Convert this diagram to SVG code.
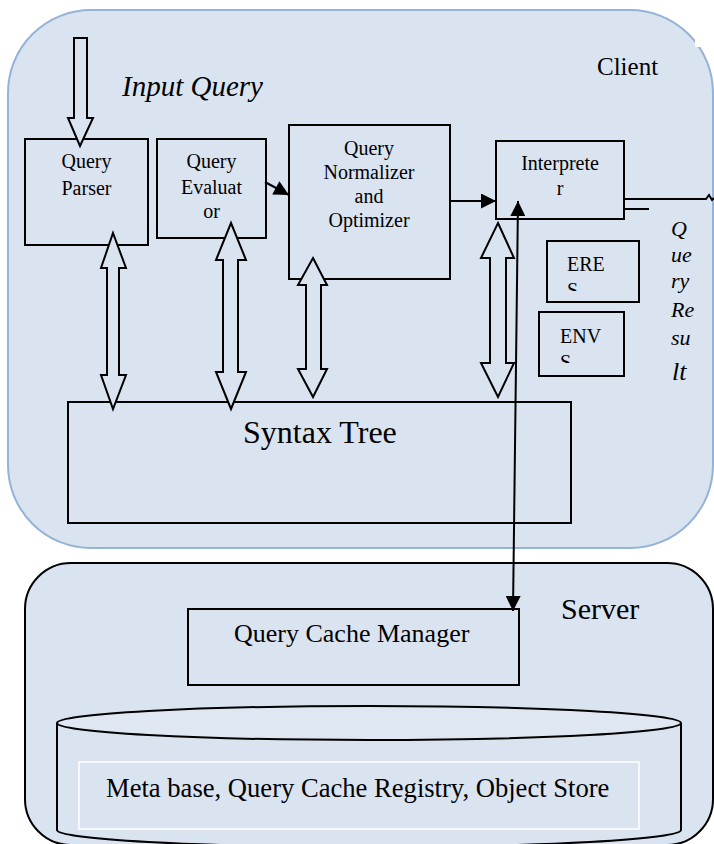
<svg xmlns="http://www.w3.org/2000/svg" width="714" height="844" viewBox="0 0 714 844">
  <style>
    text { font-family: 'Liberation Serif', 'Times New Roman', Times, serif; fill: #000; }
    .it { font-style: italic; }
    .box { fill: none; stroke: #000; stroke-width: 2; }
    .blk { fill: #dae3f0; stroke: #000; stroke-width: 2; stroke-linejoin: miter; }
    .ln { fill: none; stroke: #000; stroke-width: 2; }
  </style>
  <defs>
    <marker id="ah" viewBox="0 0 10 10" refX="10" refY="5" markerUnits="userSpaceOnUse" markerWidth="16" markerHeight="15" orient="auto-start-reverse">
      <path d="M0,0 L10,5 L0,10 Z" fill="#000"/>
    </marker>
    <clipPath id="clipEres"><rect x="540" y="240" width="110" height="51"/></clipPath>
    <clipPath id="clipEnvs"><rect x="535" y="310" width="100" height="53"/></clipPath>
  </defs>

  <rect width="714" height="844" fill="#fff"/>
  <ellipse cx="765" cy="710" rx="62" ry="178" fill="#e4e4e4"/>

  <g id="client">
    <rect x="8" y="10" width="705" height="538" rx="83" ry="83" fill="#dae3f0" stroke="#95b3d7" stroke-width="2"/>
    <rect x="695" y="31" width="19" height="16" fill="#fff"/>
    <text x="597" y="75" font-size="25" font-family="Liberation Serif, serif">Client</text>
    <text class="it" x="122" y="96" font-size="29" font-family="Liberation Serif, serif">Input Query</text>
  </g>

  <g id="server">
    <rect x="25" y="563" width="688" height="282" rx="46" ry="46" fill="#dae3f0" stroke="#000" stroke-width="2"/>
    <text x="561" y="619" font-size="30">Server</text>
  </g>

  <g id="query-parser">
    <rect class="box" x="25" y="139" width="123" height="106"/>
    <text x="86.5" y="168" font-size="20" text-anchor="middle">Query</text>
    <text x="86.5" y="195" font-size="20" text-anchor="middle">Parser</text>
  </g>

  <g id="query-evaluator">
    <rect class="box" x="157" y="139" width="109" height="99"/>
    <text x="211.5" y="168" font-size="20" text-anchor="middle">Query</text>
    <text x="211.5" y="194" font-size="20" text-anchor="middle">Evaluat</text>
    <text x="211.5" y="218" font-size="20" text-anchor="middle">or</text>
  </g>

  <g id="query-normalizer">
    <rect class="box" x="289" y="125" width="161" height="154"/>
    <text x="369" y="155" font-size="20" text-anchor="middle">Query</text>
    <text x="369" y="179" font-size="20" text-anchor="middle">Normalizer</text>
    <text x="369" y="203" font-size="20" text-anchor="middle">and</text>
    <text x="369" y="227" font-size="20" text-anchor="middle">Optimizer</text>
  </g>

  <g id="interpreter">
    <rect class="box" x="496" y="141" width="128" height="78"/>
    <text x="560" y="170" font-size="20" text-anchor="middle">Interprete</text>
    <text x="560" y="195" font-size="20" text-anchor="middle">r</text>
  </g>

  <g id="eres">
    <rect class="box" x="547" y="241" width="92" height="61"/>
    <text x="567" y="271" font-size="20">ERE</text>
    <text x="567" y="297" font-size="20" clip-path="url(#clipEres)">S</text>
  </g>

  <g id="envs">
    <rect class="box" x="539" y="312" width="85" height="64"/>
    <text x="560" y="343" font-size="20">ENV</text>
    <text x="560" y="369" font-size="20" clip-path="url(#clipEnvs)">S</text>
  </g>

  <g id="query-result">
    <text class="it" x="671" y="236" font-size="22">Q</text>
    <text class="it" x="671" y="262" font-size="22">ue</text>
    <text class="it" x="671" y="288" font-size="22">ry</text>
    <text class="it" x="671" y="317" font-size="22">Re</text>
    <text class="it" x="671" y="345" font-size="22">su</text>
    <text class="it" x="672" y="380" font-size="26">lt</text>
  </g>

  <g id="syntax-tree">
    <rect class="box" x="68" y="402" width="503" height="121"/>
    <text x="243" y="443" font-size="32">Syntax Tree</text>
  </g>

  <g id="query-cache-manager">
    <rect class="box" x="188" y="609" width="331" height="76"/>
    <text x="234" y="642" font-size="26">Query Cache Manager</text>
  </g>

  <g id="store">
    <path d="M57,723 L57,830 A312,17 0 0 0 681,830 L681,723" fill="#dae3f0" stroke="#000" stroke-width="2"/>
    <ellipse cx="369" cy="723" rx="312" ry="17" fill="#dfe7f2" stroke="#000" stroke-width="2"/>
    <rect x="79" y="762" width="560" height="67" fill="none" stroke="#fff" stroke-width="1.5"/>
    <text x="106" y="797" font-size="26.6">Meta base, Query Cache Registry, Object Store</text>
  </g>

  <g id="connectors">
    <path class="blk" d="M80,146 L93,118 L87,118 L87,38 L74,38 L74,118 L68,118 Z"/>
    <path class="blk" d="M113,233 L126,268 L119,268 L119,375 L126,375 L113,409 L101,375 L107,375 L107,268 L101,268 Z"/>
    <path class="blk" d="M231,223 L246,260 L238,260 L238,372 L246,372 L231,409 L216,372 L223,372 L223,260 L216,260 Z"/>
    <path class="blk" d="M313,258 L327,285 L321,285 L321,369 L327,369 L313,397 L298,369 L306,369 L306,285 L298,285 Z"/>
    <path class="blk" d="M498,223 L514,258 L506,258 L506,363 L514,363 L498,397 L481,363 L490,363 L490,258 L481,258 Z"/>
    <line class="ln" x1="265" y1="182" x2="289" y2="195" marker-end="url(#ah)"/>
    <line class="ln" x1="450" y1="201" x2="496" y2="201" marker-end="url(#ah)"/>
    <line class="ln" x1="513" y1="611" x2="518" y2="201" marker-start="url(#ah)" marker-end="url(#ah)"/>
    <polyline class="ln" points="624,199 706,199 709,195 712,200 714,198"/>
    <line class="ln" x1="624" y1="209" x2="649" y2="209"/>
  </g>
</svg>
